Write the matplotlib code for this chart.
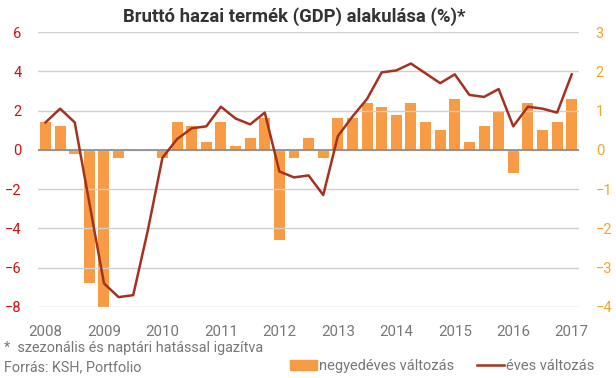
import numpy as np
import matplotlib
matplotlib.use("Agg")
import matplotlib.pyplot as plt
from matplotlib.patches import Patch
from matplotlib.lines import Line2D

plt.rcParams['font.family'] = ['Roboto', 'DejaVu Sans']

# negyedevek 2008 Q1 - 2017 Q1
years = ["2008", "2009", "2010", "2011", "2012", "2013", "2014", "2015", "2016", "2017"]
qoq = [0.7, 0.6, -0.1, -3.4,
       -4.0, -0.2, 0.0, 0.0,
       -0.2, 0.7, 0.6, 0.2,
       0.7, 0.1, 0.3, 0.8,
       -2.3, -0.2, 0.3, -0.2,
       0.8, 0.8, 1.2, 1.1,
       0.9, 1.2, 0.7, 0.5,
       1.3, 0.2, 0.6, 1.0,
       -0.6, 1.2, 0.5, 0.7,
       1.3]
yoy = [1.4, 2.1, 1.4, -2.7,
       -6.8, -7.5, -7.4, -4.1,
       -0.4, 0.55, 1.1, 1.2,
       2.2, 1.6, 1.3, 1.9,
       -1.1, -1.4, -1.3, -2.3,
       0.7, 1.7, 2.6, 3.95,
       4.05, 4.4, 3.9, 3.4,
       3.85, 2.8, 2.7, 3.1,
       1.2, 2.2, 2.1, 1.9,
       3.85]

bar_c = "#f79b45"
line_c = "#a5311f"

x = np.arange(len(qoq))
fig = plt.figure(figsize=(6.16, 3.78), dpi=100)
ax = fig.add_axes([0.062, 0.188, 0.878, 0.727])
ax2 = ax.twinx()

ax.set_ylim(-8, 6)
ax.set_yticks(range(-8, 7, 2))
ax.grid(axis='y', color='#d0d0d0', lw=1)
ax.axhline(0, color='#888888', lw=1.2, zorder=1)
ax.set_axisbelow(True)

ax2.bar(x, qoq, width=0.75, color=bar_c, zorder=2)
ax2.set_ylim(-4, 3)
ax2.set_yticks(range(-4, 4))

# line on the left axis, drawn above the bars
ax.set_zorder(ax2.get_zorder() + 1)
ax.patch.set_visible(False)
ax.plot(x, yoy, color=line_c, lw=1.8, zorder=3)

ax.set_xlim(-0.5, len(qoq) - 0.5)
ax.set_xticks(x[::4])
ax.set_xticklabels(years)

for a in (ax, ax2):
    for s in a.spines.values():
        s.set_visible(False)
    a.tick_params(length=0)
ax.tick_params(axis='x', colors='#777777', labelsize=10.8, pad=13)
ax.tick_params(axis='y', colors='#d01010', labelsize=10.5, pad=12)
ax2.tick_params(axis='y', colors='#f5a425', labelsize=10.5, pad=12)

fig.text(0.478, 0.956, "Bruttó hazai termék (GDP) alakulása (%)*", ha='center', va='center',
         fontsize=13.3, fontweight='bold', color='#333333')
fig.text(0.007, 0.079, "*  szezonális és naptári hatással igazítva", fontsize=10.4,
         color='#777777', va='center')
fig.text(0.007, 0.029, "Forrás: KSH, Portfolio", fontsize=10.4, color='#777777', va='center')

handles = [Patch(color=bar_c), Line2D([0], [0], color=line_c, lw=1.8)]
fig.legend(handles, ["negyedéves változás", "éves változás"], loc='center',
           bbox_to_anchor=(0.718, 0.031), ncol=2, frameon=False, fontsize=10.5,
           labelcolor='#777777', handlelength=1.8, handleheight=0.65, columnspacing=1.6,
           handletextpad=0.15, borderpad=0)

fig.savefig("out.png", dpi=100)
